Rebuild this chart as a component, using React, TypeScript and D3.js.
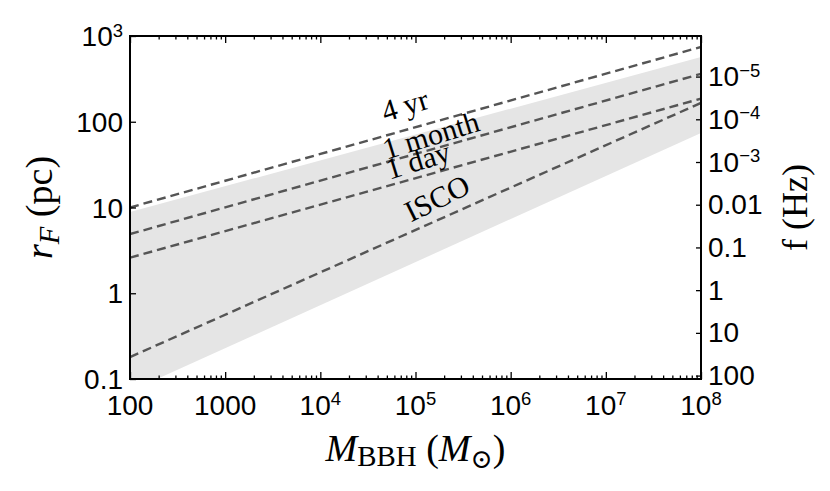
import React, { useRef, useEffect } from 'react';
import * as d3 from 'd3';

const W = 830;
const H = 491;

// tick values and their labels ("^" marks an exponent)
const massTicks = [1e2, 1e3, 1e4, 1e5, 1e6, 1e7, 1e8];
const massTickLabels = ['100', '1000', '10^4', '10^5', '10^6', '10^7', '10^8'];
const radiusTicks = [0.1, 1, 10, 100, 1000];
const radiusTickLabels = ['0.1', '1', '10', '100', '10^3'];
const freqTicks = [1e-5, 1e-4, 1e-3, 0.01, 0.1, 1, 10, 100];
const freqTickLabels = ['10^\u22125', '10^\u22124', '10^\u22123', '0.01', '0.1', '1', '10', '100'];

// dashed lines: r_F (pc) at the two ends of the mass range
const seriesNames = ['4 yr', '1 month', '1 day', 'ISCO'];
const seriesMass = [1e2, 1e8];
const seriesRadius = [
  [10, 745],
  [4.9, 362],
  [2.6, 186],
  [0.18, 166],
];
// where each line label sits (mass, r_F)
const labelMass = [7.7e4, 1.45e5, 1.06e5, 1.68e5];
const labelRadius = [157, 70, 35.8, 12.9];

// grey band
const bandMass = [1e2, 1e8];
const bandUpper = [8.85, 569];
const bandLower = [0.072, 74];

const SANS = '"Liberation Sans", Arial, Helvetica, sans-serif';
const SERIF = '"Liberation Serif", "Times New Roman", "DejaVu Serif", serif';

function writeLabel(sel: any, text: string, size: number) {
  const [base, exp] = text.split('^');
  sel.append('tspan').text(base);
  if (exp) {
    sel.append('tspan')
      .attr('font-size', size * 0.66)
      .attr('dy', -size * 0.34)
      .text(exp);
  }
}

function App() {
  const svgRef = useRef<SVGSVGElement>(null);

  useEffect(() => {
    const svg = d3.select(svgRef.current);
    svg.selectAll('*').remove();

    const margin = { top: 36, right: 129, bottom: 112, left: 130 };
    const x0 = margin.left, x1 = W - margin.right;
    const y0 = margin.top, y1 = H - margin.bottom;

    const x = d3.scaleLog().domain([1e2, 1e8]).range([x0, x1]);
    const y = d3.scaleLog().domain([0.1, 1000]).range([y1, y0]);
    const yf = d3.scaleLog().domain([Math.pow(10, -5.95), Math.pow(10, 2.08)]).range([y0, y1]);

    svg.append('defs').append('clipPath').attr('id', 'plot-clip')
      .append('rect')
      .attr('x', x0).attr('y', y0)
      .attr('width', x1 - x0).attr('height', y1 - y0);

    const plot = svg.append('g').attr('clip-path', 'url(#plot-clip)');

    // band
    const bandRows = bandMass.map((m, i) => ({ m, lo: bandLower[i], hi: bandUpper[i] }));
    const area = d3.area<any>()
      .x(d => x(d.m))
      .y0(d => y(d.lo))
      .y1(d => y(d.hi));
    plot.append('path')
      .datum(bandRows)
      .attr('fill', '#e5e5e5')
      .attr('d', area);

    // dashed lines
    const line = d3.line<number[]>()
      .x(d => x(d[0]))
      .y(d => y(d[1]));
    seriesNames.forEach((name, i) => {
      const pts = seriesMass.map((m, j) => [m, seriesRadius[i][j]]);
      plot.append('path')
        .datum(pts)
        .attr('fill', 'none')
        .attr('stroke', '#555')
        .attr('stroke-width', 2.4)
        .attr('stroke-dasharray', '9,5')
        .attr('d', line);
    });

    // line labels, rotated along their line
    seriesNames.forEach((name, i) => {
      const pts = seriesMass.map((m, j) => [m, seriesRadius[i][j]]);
      const ang = Math.atan2(y(pts[1][1]) - y(pts[0][1]), x(pts[1][0]) - x(pts[0][0])) * 180 / Math.PI;
      const px = x(labelMass[i]);
      const py = y(labelRadius[i]);
      svg.append('text')
        .attr('transform', `translate(${px},${py}) rotate(${ang * 1.1})`)
        .attr('text-anchor', 'middle')
        .attr('dy', '0.35em')
        .attr('font-family', SERIF)
        .attr('font-size', 30)
        .attr('fill', '#000')
        .text(name);
    });

    // ticks
    const minorMass: number[] = [];
    for (let e = 2; e < 8; e++) {
      for (let k = 2; k <= 9; k++) minorMass.push(k * Math.pow(10, e));
    }
    const tickStyle = (g: any) => {
      g.select('.domain').remove();
      g.selectAll('line').attr('stroke', '#000').attr('stroke-width', 1.3);
    };
    const noLabel = () => '';
    svg.append('g').attr('transform', `translate(0,${y1})`)
      .call(d3.axisBottom(x).tickValues(massTicks).tickSize(-7).tickFormat(noLabel))
      .call(tickStyle);
    svg.append('g').attr('transform', `translate(0,${y1})`)
      .call(d3.axisBottom(x).tickValues(minorMass).tickSize(-3.5).tickFormat(noLabel))
      .call(tickStyle);
    svg.append('g').attr('transform', `translate(0,${y0})`)
      .call(d3.axisTop(x).tickValues(massTicks).tickSize(-7).tickFormat(noLabel))
      .call(tickStyle);
    svg.append('g').attr('transform', `translate(0,${y0})`)
      .call(d3.axisTop(x).tickValues(minorMass).tickSize(-3.5).tickFormat(noLabel))
      .call(tickStyle);
    svg.append('g').attr('transform', `translate(${x0},0)`)
      .call(d3.axisLeft(y).tickValues(radiusTicks).tickSize(-6).tickFormat(noLabel))
      .call(tickStyle);
    svg.append('g').attr('transform', `translate(${x1},0)`)
      .call(d3.axisRight(yf).tickValues(freqTicks).tickSize(-5).tickFormat(noLabel))
      .call(tickStyle);

    // tick labels
    const fs = 28;
    massTicks.forEach((v, i) => {
      const t = svg.append('text')
        .attr('x', x(v)).attr('y', y1 + 36)
        .attr('text-anchor', 'middle')
        .attr('font-family', SANS).attr('font-size', fs);
      writeLabel(t, massTickLabels[i], fs);
    });
    radiusTicks.forEach((v, i) => {
      const t = svg.append('text')
        .attr('x', x0 - 7).attr('y', y(v) + fs * 0.36)
        .attr('text-anchor', 'end')
        .attr('font-family', SANS).attr('font-size', fs);
      writeLabel(t, radiusTickLabels[i], fs);
    });
    freqTicks.forEach((v, i) => {
      const t = svg.append('text')
        .attr('x', x1 + 7).attr('y', yf(v) + fs * 0.34)
        .attr('text-anchor', 'start')
        .attr('font-family', SANS).attr('font-size', fs);
      writeLabel(t, freqTickLabels[i], fs);
    });

    // frame
    svg.append('rect')
      .attr('x', x0).attr('y', y0)
      .attr('width', x1 - x0).attr('height', y1 - y0)
      .attr('fill', 'none')
      .attr('stroke', '#000')
      .attr('stroke-width', 2);

    // axis titles
    const ts = 38;
    const xt = svg.append('text')
      .attr('x', (x0 + x1) / 2).attr('y', 461)
      .attr('text-anchor', 'middle')
      .attr('font-family', SERIF).attr('font-size', ts);
    xt.append('tspan').attr('font-style', 'italic').text('M');
    xt.append('tspan').attr('font-size', ts * 0.76).attr('dy', 5).text('BBH');
    xt.append('tspan').attr('dy', -5).text(' (');
    xt.append('tspan').attr('font-style', 'italic').text('M');
    xt.append('tspan').attr('font-size', ts * 0.7).attr('dy', 7).attr('font-family', '"DejaVu Serif", serif').text('\u2299');
    xt.append('tspan').attr('dy', -7).text(')');

    const yt = svg.append('text')
      .attr('transform', `translate(52,${(y0 + y1) / 2}) rotate(-90)`)
      .attr('text-anchor', 'middle')
      .attr('font-family', SERIF).attr('font-size', ts);
    yt.append('tspan').attr('font-style', 'italic').text('r');
    yt.append('tspan').attr('font-style', 'italic').attr('font-size', ts * 0.76).attr('dy', 7).text('F');
    yt.append('tspan').attr('dy', -7).text(' (pc)');

    svg.append('text')
      .attr('transform', `translate(807,${(y0 + y1) / 2}) rotate(-90)`)
      .attr('text-anchor', 'middle')
      .attr('font-family', SERIF).attr('font-size', 36)
      .text('f (Hz)');
  }, []);

  return (
    <svg
      ref={svgRef}
      width={W}
      height={H}
      style={{ position: 'absolute', left: 0, top: 0, background: '#fff' }}
    />
  );
}

export default App;
